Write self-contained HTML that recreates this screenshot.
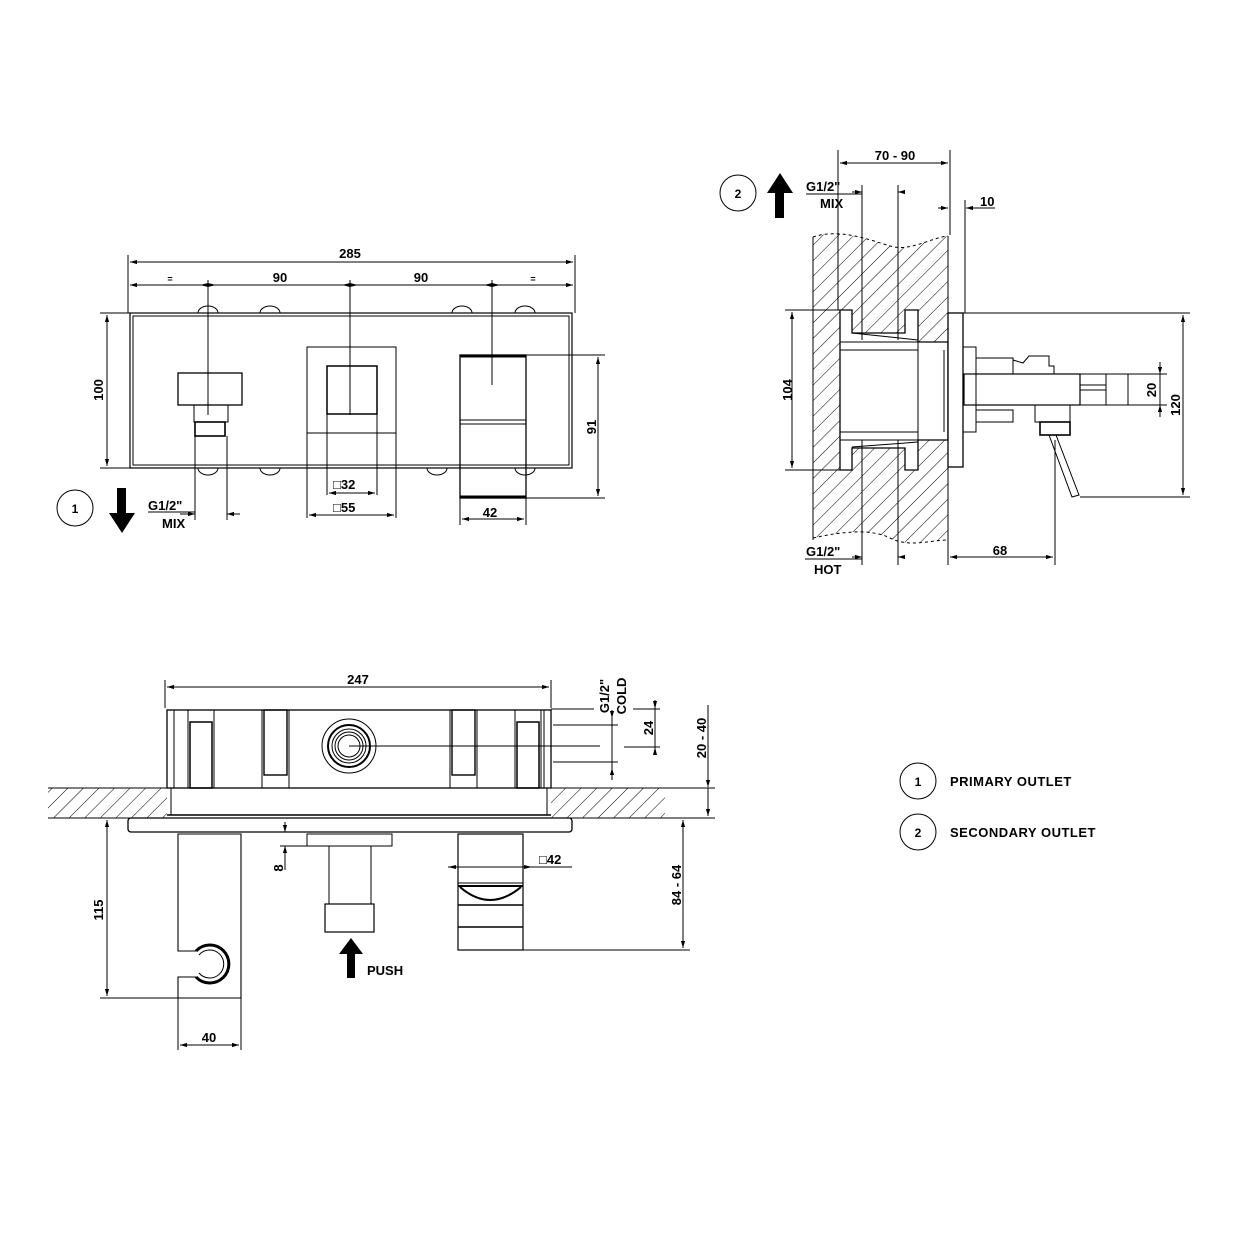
<!DOCTYPE html>
<html><head><meta charset="utf-8"><style>
html,body{margin:0;padding:0;background:#fff}
svg{display:block}
text{font-family:"Liberation Sans",sans-serif;font-weight:bold;fill:#000}
</style></head><body>
<svg width="1240" height="1240" viewBox="0 0 1240 1240" xmlns="http://www.w3.org/2000/svg">
<defs>
<pattern id="h" patternUnits="userSpaceOnUse" width="11" height="11" patternTransform="rotate(45)">
<line x1="0" y1="0" x2="0" y2="11" stroke="#000" stroke-width="1"/>
</pattern>
<marker id="a" viewBox="0 0 10 10" refX="10" refY="5" markerWidth="9" markerHeight="7" orient="auto-start-reverse" markerUnits="userSpaceOnUse"><path d="M0,2 L10,5 L0,8z" fill="#000"/></marker>
</defs>
<g stroke="#000" fill="none" stroke-width="1">
<!-- ===== FRONT VIEW ===== -->
<line x1="128" y1="255" x2="128" y2="313"/><line x1="575" y1="255" x2="575" y2="313"/>
<line x1="130" y1="262" x2="573" y2="262" marker-start="url(#a)" marker-end="url(#a)"/>
<line x1="130" y1="285" x2="573" y2="285" marker-start="url(#a)" marker-end="url(#a)"/>
<line x1="208" y1="280" x2="208" y2="415"/><line x1="350" y1="280" x2="350" y2="415"/><line x1="492" y1="280" x2="492" y2="385"/>
<path d="M200,285 l8,-2 v4z M216,285 l-8,-2 v4z M342,285 l8,-2 v4z M358,285 l-8,-2 v4z M484,285 l8,-2 v4z M500,285 l-8,-2 v4z" fill="#000" stroke="none"/>
<!-- plate -->
<rect x="130" y="313" width="442" height="155" stroke-width="1.2"/>
<rect x="133" y="316" width="436" height="149" stroke-width="1"/>
<path d="M198,313 a10,7 0 0 1 20,0 M260,313 a10,7 0 0 1 20,0 M452,313 a10,7 0 0 1 20,0 M515,313 a10,7 0 0 1 20,0 M198,468 a10,7 0 0 0 20,0 M260,468 a10,7 0 0 0 20,0 M427,468 a10,7 0 0 0 20,0 M515,468 a10,7 0 0 0 20,0"/>
<!-- 100 dim -->
<line x1="100" y1="313" x2="130" y2="313"/><line x1="100" y1="468" x2="130" y2="468"/>
<line x1="107" y1="315" x2="107" y2="466" marker-start="url(#a)" marker-end="url(#a)"/>
<!-- left outlet -->
<rect x="178" y="373" width="64" height="32" stroke-width="1.3"/>
<rect x="194" y="405" width="34" height="17"/>
<rect x="195" y="422" width="30" height="14" stroke-width="1.6"/>
<line x1="195" y1="436" x2="195" y2="520"/><line x1="227" y1="436" x2="227" y2="520"/>
<line x1="180" y1="514" x2="195" y2="514" marker-end="url(#a)"/><line x1="240" y1="514" x2="227" y2="514" marker-end="url(#a)"/>
<line x1="148" y1="512" x2="195" y2="512"/>
<!-- center -->
<rect x="307" y="347" width="89" height="86"/>
<rect x="327" y="366" width="50" height="48" stroke-width="1.5"/>
<line x1="327" y1="414" x2="327" y2="495"/><line x1="377" y1="414" x2="377" y2="495"/>
<line x1="307" y1="433" x2="307" y2="518"/><line x1="396" y1="433" x2="396" y2="518"/>
<line x1="329" y1="493" x2="375" y2="493" marker-start="url(#a)" marker-end="url(#a)"/>
<line x1="309" y1="515" x2="394" y2="515" marker-start="url(#a)" marker-end="url(#a)"/>
<!-- spout -->
<rect x="460" y="355" width="66" height="143" stroke-width="1.3"/>
<line x1="460" y1="356" x2="526" y2="356" stroke-width="3"/>
<line x1="460" y1="420" x2="526" y2="420"/><line x1="460" y1="424" x2="526" y2="424"/>
<line x1="460" y1="497" x2="526" y2="497" stroke-width="3"/>
<line x1="526" y1="355" x2="605" y2="355"/><line x1="526" y1="498" x2="605" y2="498"/>
<line x1="598" y1="357" x2="598" y2="496" marker-start="url(#a)" marker-end="url(#a)"/>
<line x1="460" y1="498" x2="460" y2="525"/><line x1="526" y1="498" x2="526" y2="525"/>
<line x1="462" y1="519" x2="524" y2="519" marker-start="url(#a)" marker-end="url(#a)"/>
<circle cx="75" cy="508" r="18"/>

<!-- ===== SIDE VIEW ===== -->
<path d="M813,237 C840,228 870,240 890,246 C910,252 930,238 948,236 L948,540 C930,540 910,548 890,538 C870,528 840,532 813,538 Z" fill="url(#h)" stroke="none"/>
<path d="M813,237 C840,228 870,240 890,246 C910,252 930,238 948,236" stroke-dasharray="3,3"/>
<path d="M813,538 C840,532 870,528 890,538 C910,548 930,540 948,540" stroke-dasharray="3,3"/>
<line x1="813" y1="237" x2="813" y2="540"/><line x1="948" y1="236" x2="948" y2="540"/>
<!-- cavity -->
<path d="M840,310 H852 V333 H905 V310 H918 V342 H948 V440 H918 V470 H905 V448 H852 V470 H840 Z" fill="#fff" stroke-width="1.3"/>
<line x1="840" y1="342" x2="918" y2="342"/><line x1="840" y1="350" x2="918" y2="350"/>
<line x1="840" y1="432" x2="918" y2="432"/><line x1="840" y1="440" x2="918" y2="440"/>
<line x1="918" y1="342" x2="918" y2="440"/>
<line x1="852" y1="333" x2="918" y2="340"/><line x1="852" y1="447" x2="918" y2="442"/>
<line x1="944" y1="350" x2="944" y2="432"/>
<!-- plate -->
<rect x="948" y="313" width="15" height="154" fill="#fff" stroke-width="1.3"/>
<rect x="963" y="347" width="13" height="85"/>
<rect x="976" y="358" width="37" height="16"/><rect x="976" y="410" width="37" height="12"/>
<path d="M1013,360 l10,3 l6,-7 h20 v10 h5 v8"/>
<rect x="1035" y="405" width="35" height="17"/>
<rect x="1040" y="422" width="30" height="13" stroke-width="1.6"/>
<rect x="964" y="374" width="116" height="31" stroke-width="1.2"/>
<rect x="1080" y="374" width="48" height="31"/>
<line x1="1080" y1="385" x2="1106" y2="385"/><line x1="1080" y1="390" x2="1106" y2="390"/><line x1="1106" y1="374" x2="1106" y2="405"/>
<path d="M1049,435 L1072,497 L1079,495 L1056,435"/>
<!-- side dims -->
<line x1="838" y1="150" x2="838" y2="310"/><line x1="950" y1="150" x2="950" y2="235"/>
<line x1="840" y1="163" x2="948" y2="163" marker-start="url(#a)" marker-end="url(#a)"/>
<line x1="862" y1="185" x2="862" y2="340"/><line x1="898" y1="185" x2="898" y2="340"/>
<line x1="852" y1="192" x2="862" y2="192" marker-end="url(#a)"/><line x1="905" y1="192" x2="898" y2="192" marker-end="url(#a)"/>
<line x1="965" y1="200" x2="965" y2="313"/>
<line x1="938" y1="208" x2="948" y2="208" marker-end="url(#a)"/><line x1="995" y1="208" x2="966" y2="208" marker-end="url(#a)"/>
<line x1="785" y1="310" x2="840" y2="310"/><line x1="785" y1="470" x2="840" y2="470"/>
<line x1="792" y1="312" x2="792" y2="468" marker-start="url(#a)" marker-end="url(#a)"/>
<line x1="963" y1="313" x2="1190" y2="313"/><line x1="1080" y1="497" x2="1190" y2="497"/>
<line x1="1183" y1="315" x2="1183" y2="495" marker-start="url(#a)" marker-end="url(#a)"/>
<line x1="1128" y1="374" x2="1167" y2="374"/><line x1="1128" y1="405" x2="1167" y2="405"/>
<line x1="1160" y1="362" x2="1160" y2="374" marker-end="url(#a)"/><line x1="1160" y1="417" x2="1160" y2="405" marker-end="url(#a)"/><line x1="1160" y1="374" x2="1160" y2="405"/>
<line x1="862" y1="440" x2="862" y2="565"/><line x1="898" y1="440" x2="898" y2="565"/>
<line x1="852" y1="557" x2="862" y2="557" marker-end="url(#a)"/><line x1="905" y1="557" x2="898" y2="557" marker-end="url(#a)"/>
<line x1="948" y1="540" x2="948" y2="565"/><line x1="1055" y1="440" x2="1055" y2="565"/>
<line x1="950" y1="557" x2="1053" y2="557" marker-start="url(#a)" marker-end="url(#a)"/>
<line x1="806" y1="194" x2="862" y2="194"/><line x1="805" y1="559" x2="862" y2="559"/>
<circle cx="738" cy="193" r="18"/>

<!-- ===== BOTTOM VIEW ===== -->
<line x1="165" y1="680" x2="165" y2="708"/><line x1="551" y1="680" x2="551" y2="708"/>
<line x1="167" y1="687" x2="549" y2="687" marker-start="url(#a)" marker-end="url(#a)"/>
<rect x="48" y="788" width="617" height="30" fill="url(#h)" stroke="none"/>
<line x1="48" y1="788" x2="665" y2="788"/><line x1="48" y1="818" x2="665" y2="818"/>
<rect x="167" y="788" width="384" height="30" fill="#fff" stroke="none"/>
<line x1="171" y1="788" x2="171" y2="815"/><line x1="547" y1="788" x2="547" y2="815"/><line x1="167" y1="788" x2="551" y2="788"/>
<line x1="167" y1="815" x2="551" y2="815" stroke-width="1.5"/>
<rect x="167" y="710" width="384" height="78" stroke-width="1.3"/>
<line x1="174" y1="710" x2="174" y2="788"/><line x1="544" y1="710" x2="544" y2="788"/>
<rect x="188" y="710" width="26" height="78"/><rect x="190" y="722" width="22" height="66" stroke-width="1.5"/>
<rect x="262" y="710" width="27" height="78"/><rect x="264" y="710" width="23" height="65" stroke-width="1.4"/>
<rect x="450" y="710" width="27" height="78"/><rect x="452" y="710" width="23" height="65" stroke-width="1.4"/>
<rect x="515" y="710" width="26" height="78"/><rect x="517" y="722" width="22" height="66" stroke-width="1.5"/>
<circle cx="349" cy="746" r="27"/><circle cx="349" cy="746" r="21" stroke-width="2"/><circle cx="349" cy="746" r="17"/><circle cx="349" cy="746" r="14"/><circle cx="349" cy="746" r="11"/>
<line x1="349" y1="746" x2="600" y2="746"/>
<rect x="128" y="818" width="444" height="14" rx="3" fill="#fff" stroke-width="1.3"/>
<!-- left holder -->
<path d="M196,951 H178 V834 H241 V998 H178 V977 H196" stroke-width="1.1"/>
<path d="M196,951 A19,19 0 1 1 196,977" stroke-width="3"/>
<path d="M199,955 A14,14 0 1 1 199,973"/>
<!-- center push -->
<rect x="307" y="834" width="85" height="12"/>
<line x1="329" y1="846" x2="329" y2="904"/><line x1="371" y1="846" x2="371" y2="904"/>
<rect x="325" y="904" width="49" height="28" stroke-width="1.2"/>
<!-- right spout -->
<rect x="458" y="834" width="65" height="116" stroke-width="1.2"/>
<line x1="458" y1="883" x2="523" y2="883"/><line x1="458" y1="886" x2="523" y2="886" stroke-width="2"/>
<path d="M460,887 Q490,913 521,887" stroke-width="2"/>
<line x1="458" y1="905" x2="523" y2="905" stroke-width="1.6"/><line x1="458" y1="927" x2="523" y2="927" stroke-width="1.6"/>
<line x1="448" y1="867" x2="572" y2="867"/>
<path d="M448,867 l8,-2 v4z M532,867 l-8,-2 v4z" fill="#000" stroke="none"/>
<!-- bottom dims -->
<line x1="100" y1="998" x2="178" y2="998"/>
<line x1="107" y1="820" x2="107" y2="996" marker-start="url(#a)" marker-end="url(#a)"/>
<line x1="178" y1="998" x2="178" y2="1050"/><line x1="241" y1="998" x2="241" y2="1050"/>
<line x1="180" y1="1045" x2="239" y2="1045" marker-start="url(#a)" marker-end="url(#a)"/>
<line x1="285" y1="822" x2="285" y2="832" marker-end="url(#a)"/><line x1="285" y1="870" x2="285" y2="846" marker-end="url(#a)"/>
<line x1="280" y1="846" x2="307" y2="846"/>
<line x1="523" y1="950" x2="690" y2="950"/>
<line x1="683" y1="820" x2="683" y2="948" marker-start="url(#a)" marker-end="url(#a)"/>
<line x1="665" y1="818" x2="715" y2="818"/><line x1="665" y1="788" x2="715" y2="788"/>
<line x1="708" y1="705" x2="708" y2="787" marker-end="url(#a)"/><line x1="708" y1="788" x2="708" y2="816" marker-end="url(#a)" />
<line x1="551" y1="709" x2="594" y2="709"/><line x1="633" y1="709" x2="660" y2="709"/>
<line x1="553" y1="725" x2="618" y2="725"/><line x1="553" y1="762" x2="618" y2="762"/>
<line x1="624" y1="747" x2="660" y2="747"/>
<line x1="612" y1="710" x2="612" y2="718" marker-end="url(#a)"/><line x1="612" y1="718" x2="612" y2="770"/><line x1="612" y1="780" x2="612" y2="768" marker-end="url(#a)"/>
<line x1="655" y1="700" x2="655" y2="753"/><path d="M655,709 l-2,-8 h4z M655,747 l-2,8 h4z" fill="#000" stroke="none"/>
<!-- legend -->
<circle cx="918" cy="781" r="18"/><circle cx="918" cy="832" r="18"/>
</g>
<!-- arrows filled -->
<path d="M117,488 h9 v25 h9 l-13,20 l-13,-20 h8z" fill="#000"/>
<path d="M775,218 h9 v-25 h9 l-13,-20 l-13,20 h8z" fill="#000"/>
<path d="M347,978 h8 v-24 h8 l-12,-16 l-12,16 h8z" fill="#000"/>
<!-- text -->
<g font-size="13">
<text x="350" y="258" text-anchor="middle">285</text>
<text x="280" y="282" text-anchor="middle">90</text>
<text x="421" y="282" text-anchor="middle">90</text>
<text x="170" y="282" text-anchor="middle" font-size="9">=</text>
<text x="533" y="282" text-anchor="middle" font-size="9">=</text>
<text transform="translate(103,390) rotate(-90)" text-anchor="middle">100</text>
<text transform="translate(596,427) rotate(-90)" text-anchor="middle">91</text>
<text x="75" y="513" text-anchor="middle" font-size="12">1</text>
<text x="148" y="510">G1/2"</text>
<text x="162" y="528">MIX</text>
<text x="333" y="489">□32</text>
<text x="333" y="512">□55</text>
<text x="490" y="517" text-anchor="middle">42</text>
<text x="895" y="160" text-anchor="middle">70 - 90</text>
<text x="738" y="198" text-anchor="middle" font-size="12">2</text>
<text x="806" y="191">G1/2"</text>
<text x="820" y="208">MIX</text>
<text x="980" y="206">10</text>
<text transform="translate(792,390) rotate(-90)" text-anchor="middle">104</text>
<text transform="translate(1156,390) rotate(-90)" text-anchor="middle">20</text>
<text transform="translate(1180,405) rotate(-90)" text-anchor="middle">120</text>
<text x="806" y="556">G1/2"</text>
<text x="814" y="574">HOT</text>
<text x="1000" y="555" text-anchor="middle">68</text>
<text x="358" y="684" text-anchor="middle">247</text>
<text transform="translate(609,696) rotate(-90)" text-anchor="middle">G1/2"</text>
<text transform="translate(626,696) rotate(-90)" text-anchor="middle">COLD</text>
<text transform="translate(653,728) rotate(-90)" text-anchor="middle">24</text>
<text transform="translate(706,738) rotate(-90)" text-anchor="middle">20 - 40</text>
<text transform="translate(283,868) rotate(-90)" text-anchor="middle">8</text>
<text transform="translate(103,910) rotate(-90)" text-anchor="middle">115</text>
<text transform="translate(681,885) rotate(-90)" text-anchor="middle">84 - 64</text>
<text x="209" y="1042" text-anchor="middle">40</text>
<text x="539" y="864">□42</text>
<text x="367" y="975">PUSH</text>
<text x="918" y="786" text-anchor="middle" font-size="12">1</text>
<text x="918" y="837" text-anchor="middle" font-size="12">2</text>
<text x="950" y="786" letter-spacing="0.5">PRIMARY  OUTLET</text>
<text x="950" y="837" letter-spacing="0.5">SECONDARY  OUTLET</text>
</g>
</svg>
</body></html>
